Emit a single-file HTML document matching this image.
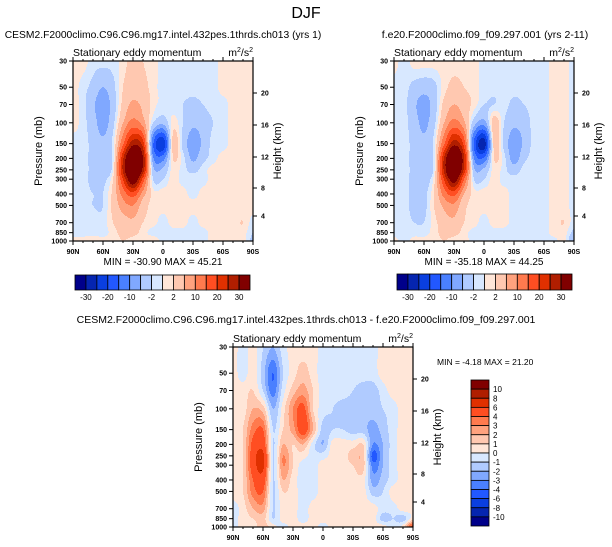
<!DOCTYPE html>
<html><head><meta charset="utf-8">
<style>
body{margin:0;background:#fff;}
svg{display:block;font-family:"Liberation Sans",sans-serif;}
</style></head>
<body>
<svg id="fig" width="612" height="547" viewBox="0 0 612 547"></svg>
<script>
const lats = ["90N","80N","70N","60N","50N","40N","30N","20N","10N","0","10S","20S","30S","40S","50S","60S","70S","80S","90S"];
const levels = [30,50,70,100,150,200,250,300,400,500,700,850,1000];
const pTicks = [30,50,70,100,150,200,250,300,400,500,700,850,1000];
const hTicks = ["20","16","12","8","4"];
const xTicks = ["90N","60N","30N","0","30S","60S","90S"];
const colors = ["#00008a","#0525b0","#0a3fe0","#2258ff","#4a80ff","#80a8ff","#b0cbff","#d8e8ff","#ffe6d8","#ffc8b0","#ffa27e","#ff7a4e","#ff4e22","#e03000","#b01e00","#800000"];
const bounds12 = [-30,-25,-20,-15,-10,-6,-2,0,2,6,10,15,20,25,30];
const labels12 = ["-30","-20","-10","-2","2","10","20","30"];
const bounds3 = [-10,-8,-6,-4,-3,-2,-1,0,1,2,3,4,6,8,10];
const labels3 = ["10","8","6","4","3","2","1","0","-1","-2","-3","-4","-6","-8","-10"];
const field1 = [
[1,1,-1,-1,-1,1,3,2,1,-1,-1,-1,-1,-1,-1,1,1,1,1],
[1,-1,-3,-6,-3,2,4,3,1,-1,-1,-1,-1,-1,-1,1,1,1,1],
[1,-1,-5,-9,-4,3,7,5,1,-1,-1,-2,-3,-2,-1,-1,1,1,1],
[1,-1,-4,-8,-3,6,12,8,-2,-5,1,-2,-5,-4,-2,-1,1,1,1],
[-1,-1,-3,-5,-1,14,28,22,-14,-24,3,-3,-9,-5,-1,-1,1,1,1],
[-1,-1,-3,-4,-1,24,42,30,-9,-12,2,-1,-7,-3,-1,1,1,1,1],
[-1,-1,-3,-5,0,26,42,28,-4,-5,1,-1,-3,-1,1,1,1,1,1],
[-1,-1,-3,-3,2,20,36,18,-2,-2,1,-1,-1,-1,1,1,1,1,1],
[-1,-1,-2,-2,3,12,18,8,1,1,1,1,-1,1,1,1,1,1,1],
[-1,-1,-2,-2,3,8,10,4,1,1,1,1,1,1,1,1,1,1,1],
[-1,-1,-1,-1,2,4,5,2,1,-1,1,1,-1,1,1,1,1,2,-1],
[-1,-1,-1,-1,1,3,3,1,-1,-1,-1,-1,-1,-1,1,1,1,1,-2],
[1,1,2,1,1,2,1,1,2,-1,-1,-1,-1,-1,1,1,1,1,-3]];
const field2 = [
[1,-1,1,1,1,1,1,1,1,-1,-1,-1,-1,-1,-1,-1,1,1,-1],
[-1,-1,-3,-4,-3,1,3,2,1,-1,-1,-1,-1,-1,-1,-1,1,1,-1],
[-1,-1,-5,-8,-4,3,6,4,1,-2,-2,-1,-3,-2,-1,-1,1,1,-1],
[-1,-1,-4,-7,-3,6,12,7,-4,-8,4,-2,-5,-4,-1,-1,1,1,-1],
[-1,-1,-3,-5,-1,14,28,18,-16,-28,3,-3,-9,-5,-1,-1,1,1,-1],
[-1,-1,-3,-4,-1,25,42,26,-10,-14,2,-1,-8,-3,-1,-1,1,1,-1],
[-1,-1,-3,-5,-1,26,42,24,-5,-5,1,-1,-4,-1,-1,-1,1,1,-1],
[-1,-1,-3,-4,1,20,34,15,-2,-2,1,-1,-1,-1,-1,-1,1,1,-1],
[-1,-1,-3,-3,2,12,17,6,1,1,1,1,-1,-1,-1,-1,1,1,-1],
[-1,-1,-3,-3,2,7,9,3,1,1,1,1,-1,-1,-1,-1,1,1,-1],
[-1,-1,-2,-2,1,4,5,2,1,-1,1,1,-1,-1,-1,-1,1,2,-1],
[-1,-1,-1,-1,1,3,3,1,-1,-1,-1,-1,-2,-1,-1,-1,1,1,-3],
[1,-1,1,1,1,2,1,1,-1,-1,-1,-1,-1,-1,-1,-1,-1,1,-6]];
const field3 = [
[0.5,-0.5,0.5,-1,-2,-0.5,0.5,0.5,0.5,-0.5,-0.5,-0.5,-0.5,-0.5,-0.5,0.5,0.5,0.5,0.5],
[0.5,-0.5,0.5,-1.5,-4,-1,0.5,1.5,0.5,-0.5,-0.5,-0.5,-0.5,-0.5,-0.5,0.5,0.5,0.5,0.5],
[0.5,0.5,1,-1,-3.5,-0.5,1.5,2.5,1,-0.5,-0.5,-0.5,-1,-1.5,-1.5,-0.5,0.5,0.5,0.5],
[0.5,0.5,2,1.5,-2,0.5,3,4.5,1,-0.5,-1,-1.5,-1.5,-1.5,-1.5,-1,-0.5,0.5,0.5],
[0.5,1,3.5,4,-1,1,2.5,5,2,-1.5,-1,-1,-1.5,-1.5,-2.5,-1.5,-0.5,0.5,0.5],
[0.5,1,4.5,5,-1,2,1,2,-0.5,-2,0.5,0.5,0.5,1,-3,-2,-0.5,0.5,0.5],
[0.5,1,5,6.5,-1,3,1,0.5,-0.5,-0.5,0.5,0.5,1.5,1.5,-4.5,-2,-0.5,0.5,0.5],
[0.5,1,5,6.5,-1,3,1,-0.5,-0.5,0.5,0.5,0.5,1,1.5,-3.5,-2,-0.5,0.5,0.5],
[0.5,1,4,5,-1,2,0.5,-0.5,-0.5,0.5,0.5,0.5,0.5,0.5,-2.5,-1.5,-0.5,0.5,0.5],
[0.5,1,3.5,4,-1,1,0.5,-0.5,-0.5,0.5,0.5,0.5,0.5,0.5,-1.5,-1,0.5,0.5,0.5],
[-0.5,0.5,2,2.5,-1,0.5,0.5,-0.5,0.5,0.5,0.5,0.5,0.5,0.5,0.5,-0.5,-0.5,0.5,0.5],
[-0.5,0.5,1,1.5,-1,0.5,0.5,-0.5,0.5,0.5,0.5,0.5,0.5,0.5,0.5,-1.5,-1,-1.5,0.5],
[-0.5,0.5,0.5,1.5,0.5,-0.5,0.5,0.5,0.5,-0.5,0.5,0.5,0.5,0.5,0.5,0.5,-0.5,0.5,5]];

const NS="http://www.w3.org/2000/svg";
const svg=document.getElementById('fig');
function el(tag,attrs,parent,text){const e=document.createElementNS(NS,tag);for(const k in attrs)e.setAttribute(k,attrs[k]);if(text!==undefined)e.textContent=text;(parent||svg).appendChild(e);return e;}
const W=180,H=180;
function yOf(p){return H*Math.log(p/30)/Math.log(1000/30);}
function colorFor(v,b){let k=0;while(k<b.length&&v>=b[k])k++;return colors[k];}
function cr(p0,p1,p2,p3,t){return 0.5*((2*p1)+(-p0+p2)*t+(2*p0-5*p1+4*p2-p3)*t*t+(-p0+3*p1-3*p2+p3)*t*t*t);}
function rowVal(row,fi){const n=row.length;const i=Math.min(Math.floor(fi),n-2);const t=fi-i;
  const g=k=>row[Math.max(0,Math.min(n-1,k))];return cr(g(i-1),g(i),g(i+1),g(i+2),t);}
function sample(f,px,py){
  const fi=px/W*(lats.length-1);
  const p=30*Math.exp(py/H*Math.log(1000/30));
  let r=0;while(r<levels.length-2&&levels[r+1]<p)r++;
  const ty=(Math.log(p)-Math.log(levels[r]))/(Math.log(levels[r+1])-Math.log(levels[r]));
  const n=levels.length;const g=k=>rowVal(f[Math.max(0,Math.min(n-1,k))],fi);
  return cr(g(r-1),g(r),g(r+1),g(r+2),ty);
}
function panel(name,x0,y0,field,bnds){
  const g=el('g',{transform:`translate(${x0},${y0})`});
  
  
  const step=1;
  for(let py=0;py<H;py+=step){
    let runStart=0,runCol=null;
    for(let px=0;px<=W;px+=step){
      const c=px<W?colorFor(sample(field,px+0.5,py+0.5),bnds):null;
      if(c!==runCol){
        if(runCol){const r=el('rect',{x:runStart,y:py,width:px-runStart,height:step+0.4,fill:runCol},g);
          
          }
        runStart=px;runCol=c;}
    }
  }
  const fr=el('rect',{x:0,y:0,width:W,height:H,fill:'none',stroke:'#000','stroke-width':1.2},g);
  
  
  pTicks.forEach(p=>{const y=yOf(p);el('line',{x1:-4,x2:0,y1:y,y2:y,stroke:'#000'},g);
    const t=el('text',{x:-6,y:y+2.5,'text-anchor':'end','font-size':7,'font-weight':'bold'},g,String(p));
    });
  const hy=[32,64,96,127,155];
  hTicks.forEach((h,i)=>{el('line',{x1:W,x2:W+4,y1:hy[i],y2:hy[i],stroke:'#000'},g);
    const t=el('text',{x:W+8,y:hy[i]+2.5,'font-size':7,'font-weight':'bold'},g,h);
    });
  xTicks.forEach((l,i)=>{const x=W*i/6;el('line',{x1:x,x2:x,y1:H,y2:H+4,stroke:'#000'},g);el('line',{x1:x,x2:x,y1:0,y2:-4,stroke:'#000'},g);
    const t=el('text',{x:x,y:H+13,'text-anchor':'middle','font-size':7,'font-weight':'bold'},g,l);
    });
  for(let i=0;i<=18;i++){const x=W*i/18;el('line',{x1:x,x2:x,y1:H,y2:H+2,stroke:'#000'},g);el('line',{x1:x,x2:x,y1:0,y2:-2,stroke:'#000'},g);}
  const s=el('text',{x:0,y:-5,'font-size':10.5},g,'Stationary eddy momentum');
  
  const u=el('text',{x:W,y:-5,'text-anchor':'end','font-size':10.5},g);
  
  u.innerHTML='m<tspan dy="-4" font-size="7">2</tspan><tspan dy="4">/s</tspan><tspan dy="-4" font-size="7">2</tspan>';
  const pa=el('text',{transform:`translate(-31,${H/2}) rotate(-90)`,'text-anchor':'middle','font-size':11},g,'Pressure (mb)');
  
  const ha=el('text',{transform:`translate(${W+28},${H/2}) rotate(-90)`,'text-anchor':'middle','font-size':11},g,'Height (km)');
  
  return g;
}
function hbar(name,x0,y0,w,h){
  const g=el('g',{transform:`translate(${x0},${y0})`});
  
  const bw=w/16;
  colors.forEach((c,i)=>{const r=el('rect',{x:i*bw,y:0,width:bw,height:h,fill:c,stroke:'#000','stroke-width':0.8},g);
    });
  labels12.forEach((l,i)=>{const t=el('text',{x:(1+2*i)*bw,y:h+10,'text-anchor':'middle','font-size':8},g,l);
    });
}
function txt(name,x,y,s,size,anchor){const t=el('text',{x:x,y:y,'font-size':size,'text-anchor':anchor||'middle'},svg,s);
  return t;}

txt('figure-title',306,18,'DJF',16);
txt('panel1-title',163,38,'CESM2.F2000climo.C96.C96.mg17.intel.432pes.1thrds.ch013 (yrs 1)',10.3);
txt('panel2-title',485,38,'f.e20.F2000climo.f09_f09.297.001 (yrs 2-11)',10.5);
panel('panel1-plot',73,61,field1,bounds12);
panel('panel2-plot',394,61,field2,bounds12);
txt('panel1-minmax',163,265,'MIN = -30.90  MAX =  45.21',10);
txt('panel2-minmax',484,265,'MIN = -35.18  MAX =  44.25',10);
hbar('panel1-colorbar',75,275,175,15);
hbar('panel2-colorbar',397,274,175,16);
txt('panel3-title',306,323,'CESM2.F2000climo.C96.C96.mg17.intel.432pes.1thrds.ch013 - f.e20.F2000climo.f09_f09.297.001',10.5);
panel('panel3-plot',233,347,field3,bounds3);
txt('panel3-minmax',437,365,'MIN =  -4.18  MAX =  21.20',8.5,'start');
(function(){
  const g=el('g',{transform:'translate(471,380)'});
  
  const bh=146/16;
  colors.slice().reverse().forEach((c,i)=>{const r=el('rect',{x:0,y:i*bh,width:18,height:bh,fill:c,stroke:'#000','stroke-width':0.8},g);
    });
  labels3.forEach((l,i)=>{const t=el('text',{x:22,y:(i+1)*bh+3,'font-size':8},g,l);
    });
})();
</script>
</body></html>
